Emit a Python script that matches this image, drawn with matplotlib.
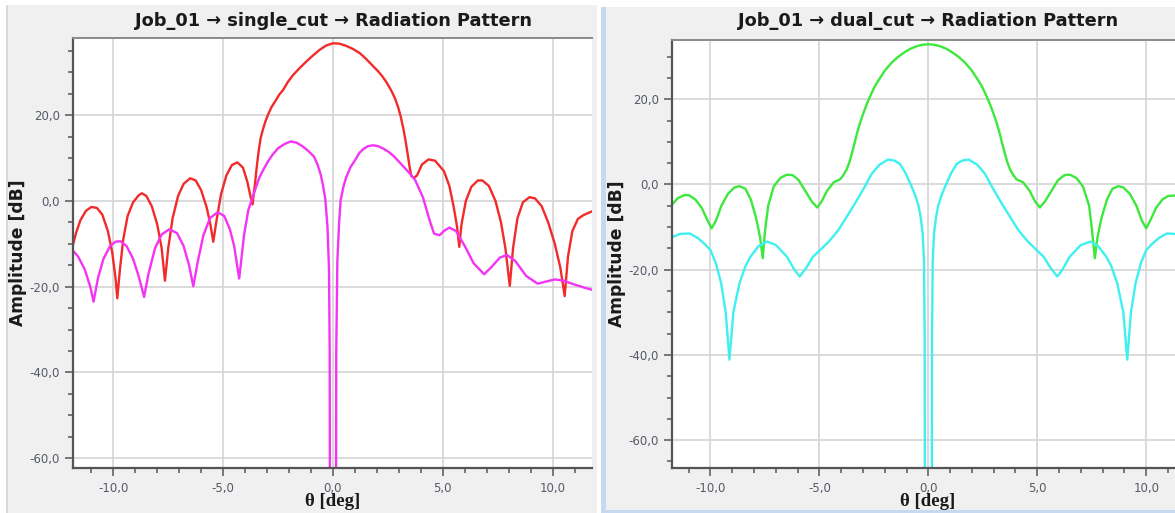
import matplotlib.pyplot as plt
from matplotlib.ticker import MultipleLocator, FuncFormatter
from matplotlib.patches import Rectangle

# single_cut panel
single_co_theta = [-11.85, -11.7, -11.5, -11.25, -11.0, -10.75, -10.5, -10.25, -10.05, -9.9, -9.82, -9.7, -9.55,
                   -9.35, -9.1, -8.85, -8.7, -8.5, -8.25, -8.0, -7.8, -7.65, -7.5, -7.3, -7.05, -6.8, -6.5, -6.25,
                   -6.0, -5.75, -5.58, -5.45, -5.3, -5.1, -4.85, -4.6, -4.35, -4.1, -3.9, -3.75, -3.66, -3.6, -3.55,
                   -3.48, -3.4, -3.3, -3.2, -3.08, -2.96, -2.8, -2.6, -2.45, -2.27, -2.05, -1.8, -1.5, -1.22, -0.9,
                   -0.6, -0.3, 0.0, 0.3, 0.6, 0.9, 1.22, 1.5, 1.8, 2.05, 2.26, 2.45, 2.65, 2.82, 2.96, 3.08, 3.2,
                   3.3, 3.4, 3.48, 3.57, 3.7, 3.83, 4.05, 4.35, 4.65, 5.05, 5.3, 5.5, 5.65, 5.75, 5.85, 6.05, 6.3,
                   6.6, 6.8, 7.1, 7.4, 7.65, 7.85, 8.05, 8.2, 8.4, 8.65, 8.95, 9.2, 9.5, 9.8, 10.1, 10.35, 10.55,
                   10.7, 10.9, 11.15, 11.4, 11.85]
single_co_db = [-10.5, -7.5, -4.5, -2.3, -1.4, -1.6, -3.2, -7.0, -12.0, -18.0, -22.7, -16.0, -9.0,
                -3.5, -0.3, 1.3, 1.8, 1.2, -1.2, -5.5, -11.0, -18.6, -11.0, -4.0, 1.2, 4.0, 5.3, 4.8,
                2.5, -1.5, -5.5, -9.5, -4.5, 1.5, 6.0, 8.4, 9.0, 7.8, 4.5, 1.0, -0.8, 2.0, 4.0,
                7.5, 11.0, 14.5, 16.5, 18.5, 20.1, 21.9, 23.5, 24.8, 25.9, 27.8, 29.5, 31.1, 32.5, 34.0,
                35.3, 36.3, 36.8, 36.7, 36.2, 35.5, 34.5, 33.2, 31.6, 30.3, 29.0, 27.6, 25.8, 24.0, 22.0, 19.8, 17.0,
                14.2, 11.0, 8.2, 5.8, 5.4, 6.0, 8.5, 9.7, 9.4, 7.0, 3.5, -1.5, -6.0, -10.7, -5.5, 0.0, 3.3,
                4.8, 4.8, 3.5, 0.0, -5.0, -11.0, -19.8, -11.0, -4.0, -0.3, 0.9, 0.6, -1.2, -5.0, -10.0, -15.5, -22.2,
                -13.0, -7.0, -4.2, -3.3, -2.3]

single_cx_theta = [-11.85, -11.6, -11.3, -11.05, -10.9, -10.7, -10.45, -10.15, -9.9, -9.67, -9.4, -9.1, -8.85,
                   -8.6, -8.4, -8.1, -7.8, -7.45, -7.1, -6.8, -6.55, -6.36, -6.15, -5.9, -5.6, -5.25, -4.95, -4.7,
                   -4.5, -4.27, -4.05, -3.85, -3.66, -3.5, -3.35, -3.15, -2.96, -2.75, -2.5, -2.2, -1.92, -1.65,
                   -1.4, -1.15, -0.87, -0.7, -0.55, -0.45, -0.35, -0.25, -0.18, -0.15, -0.13, 0.13, 0.15, 0.2,
                   0.28, 0.35, 0.47, 0.6, 0.8, 1.04, 1.2, 1.4, 1.6, 1.83, 2.05, 2.3, 2.55, 2.78, 3.0, 3.25, 3.5,
                   3.74, 4.1, 4.4, 4.6, 4.85, 5.05, 5.3, 5.6, 6.0, 6.4, 6.88, 7.2, 7.6, 7.92, 8.3, 8.8, 9.32, 9.7,
                   10.1, 10.5, 11.0, 11.5, 11.85]
single_cx_db = [-11.5, -13.0, -16.0, -20.0, -23.5, -18.0, -13.5, -10.5, -9.5, -9.4, -10.5, -13.5, -17.5,
                -22.4, -17.0, -11.0, -7.8, -6.6, -7.5, -10.5, -15.0, -19.9, -14.0, -8.0, -4.0, -2.6, -3.5, -6.5,
                -10.5, -18.1, -8.0, -2.0, 0.8, 3.3, 5.5, 7.5, 9.2, 10.8, 12.3, 13.3, 13.9, 13.6,
                12.8, 11.8, 10.4, 8.5, 6.0, 3.5, 0.5, -6.0, -16.0, -35.0, -100.0, -100.0, -35.0, -14.0,
                -5.0, 0.2, 3.2, 5.5, 7.9, 9.8, 11.2, 12.2, 12.8, 13.0, 12.8, 12.2, 11.4, 10.4, 9.2, 7.8, 6.4,
                4.9, 0.8, -4.5, -7.6, -8.0, -7.0, -6.2, -7.0, -10.5, -14.5, -17.1, -15.5, -13.2, -12.6, -14.0, -17.5,
                -19.3, -18.8, -18.3, -18.6, -19.5, -20.3, -20.8]

# dual_cut panel
dual_co_theta = [-11.78, -11.5, -11.2, -11.0, -10.7, -10.4, -10.15, -9.95, -9.75, -9.5, -9.2, -8.9, -8.67, -8.4,
                 -8.15, -7.9, -7.72, -7.6, -7.5, -7.35, -7.1, -6.8, -6.5, -6.23, -5.95, -5.65, -5.35, -5.1, -4.9,
                 -4.65, -4.35, -4.05, -3.9, -3.75, -3.62, -3.5, -3.38, -3.28, -3.15, -3.0, -2.8, -2.6, -2.45,
                 -2.28, -2.0, -1.7, -1.4, -1.1, -0.8, -0.5, -0.25, 0.0, 0.25, 0.5, 0.8, 1.1, 1.4, 1.7, 2.0, 2.28,
                 2.45, 2.6, 2.8, 3.0, 3.15, 3.28, 3.38, 3.5, 3.62, 3.75, 3.9, 4.05, 4.35, 4.65, 4.9, 5.12, 5.35,
                 5.65, 5.95, 6.25, 6.5, 6.8, 7.1, 7.38, 7.52, 7.64, 7.76, 7.94, 8.2, 8.45, 8.73, 8.95, 9.25, 9.55,
                 9.8, 10.0, 10.2, 10.45, 10.75, 11.0, 11.3]
dual_co_db = [-4.8, -3.2, -2.5, -2.5, -3.5, -5.5, -8.3, -10.3, -8.5, -5.0, -2.2, -0.7, -0.4, -1.0,
              -3.5, -8.0, -12.5, -17.3, -11.0, -5.0, -0.5, 1.5, 2.3, 2.2, 1.0, -1.5, -4.0, -5.4, -4.0,
              -1.5, 0.5, 1.2, 2.2, 3.5, 5.3, 7.5, 9.8, 11.9, 14.2, 16.5, 19.2, 21.5, 23.1,
              24.5, 26.7, 28.5, 29.9, 31.0, 31.9, 32.5, 32.8, 32.9, 32.8, 32.5, 31.9, 31.0, 29.9, 28.5, 26.7, 24.5,
              23.1, 21.5, 19.2, 16.5, 14.2, 11.9, 9.8, 7.5, 5.3, 3.5, 2.2, 1.2, 0.5, -1.5, -4.0, -5.4, -4.0,
              -1.5, 1.0, 2.2, 2.3, 1.5, -0.5, -5.0, -11.0, -17.3, -12.5, -8.0, -3.5, -1.0, -0.4, -0.7, -2.2, -5.0,
              -8.5, -10.3, -8.3, -5.5, -3.5, -2.7, -2.6]

dual_cx_theta = [-11.78, -11.4, -10.95, -10.6, -10.3, -10.0, -9.75, -9.51, -9.3, -9.13, -8.95, -8.67, -8.4,
                 -8.17, -7.8, -7.41, -7.0, -6.48, -6.15, -5.9, -5.6, -5.3, -4.97, -4.55, -4.13, -3.7, -3.28,
                 -2.95, -2.6, -2.25, -1.85, -1.55, -1.3, -1.05, -0.76, -0.6, -0.45, -0.35, -0.26, -0.2, -0.17,
                 -0.15, 0.15, 0.17, 0.2, 0.26, 0.35, 0.45, 0.6, 0.76, 1.05, 1.3, 1.55, 1.85, 2.25, 2.6, 2.95,
                 3.28, 3.7, 4.13, 4.55, 4.97, 5.3, 5.6, 5.92, 6.15, 6.48, 7.0, 7.45, 7.8, 8.17, 8.4, 8.67, 8.95,
                 9.13, 9.3, 9.51, 9.75, 10.0, 10.3, 10.6, 10.95, 11.3]
dual_cx_db = [-12.4, -11.6, -11.5, -12.5, -13.8, -15.4, -18.5, -23.2, -30.0, -41.1, -30.0, -23.2, -19.2,
              -17.0, -14.5, -13.4, -14.2, -17.0, -20.0, -21.6, -19.5, -17.0, -15.4, -13.3, -10.7, -7.2, -3.7,
              -0.8, 2.5, 4.6, 5.85, 5.6, 4.8, 2.7, -0.6, -2.6, -5.0, -7.8, -11.5, -18.0, -35.0,
              -100.0, -100.0, -35.0, -18.0, -11.5, -7.8, -5.0, -2.6, -0.6, 2.7, 4.8, 5.6, 5.85, 4.6, 2.5, -0.8,
              -3.7, -7.2, -10.7, -13.3, -15.4, -17.0, -19.5, -21.6, -20.0, -17.0, -14.2, -13.4, -14.5, -17.0, -19.2, -23.2, -30.0,
              -41.1, -30.0, -23.2, -18.5, -15.4, -13.8, -12.5, -11.5, -11.6]

W, H = 1175, 513
fig = plt.figure(figsize=(W / 100, H / 100), dpi=100)
fig.patch.set_facecolor('white')


def px_rect(x0, y0, x1, y1, color):
    fig.patches.append(Rectangle((x0 / W, 1 - y1 / H), (x1 - x0) / W, (y1 - y0) / H,
                                 transform=fig.transFigure, facecolor=color, edgecolor='none', zorder=-10))


# window backgrounds
px_rect(7, 5, 597, 513, '#f0f0f0')
px_rect(6, 5, 8, 513, '#dadada')
px_rect(606, 7, 1175, 510, '#f0f0f0')
px_rect(601, 7, 606, 513, '#c6d9f0')
px_rect(601, 510, 1175, 513, '#c6d9f0')

comma = FuncFormatter(lambda v, p: f"{v:.1f}".replace('.', ','))


def make_axes(left, top, right, bottom, xlim, ylim):
    ax = fig.add_axes([left / W, 1 - bottom / H, (right - left) / W, (bottom - top) / H])
    ax.set_facecolor('white')
    ax.set_xlim(*xlim)
    ax.set_ylim(*ylim)
    ax.xaxis.set_major_locator(MultipleLocator(5))
    ax.xaxis.set_minor_locator(MultipleLocator(1))
    ax.yaxis.set_major_locator(MultipleLocator(20))
    ax.yaxis.set_minor_locator(MultipleLocator(5))
    ax.xaxis.set_major_formatter(comma)
    ax.yaxis.set_major_formatter(comma)
    ax.grid(True, which='major', color='#d4d4d4', lw=1.2)
    ax.set_axisbelow(True)
    for s in ['left', 'bottom']:
        ax.spines[s].set_color('#555555')
        ax.spines[s].set_linewidth(1.6)
    ax.spines['top'].set_color('#8a8a8a')
    ax.spines['top'].set_linewidth(1.4)
    ax.spines['right'].set_visible(False)
    ax.tick_params(which='major', length=6, width=1.1, color='#555555', labelsize=8.5,
                   labelcolor='#545a68', pad=3)
    ax.tick_params(which='minor', length=3.5, width=1.1, color='#555555')
    ax.tick_params(axis='x', which='major', pad=4)
    return ax


ax1 = make_axes(72.7, 37.7, 591.7, 468, (-11.85, 11.78), (-62.3, 38.1))
ax1.plot(single_co_theta, single_co_db, color='#f22a2a', lw=1.7)
ax1.plot(single_cx_theta, single_cx_db, color='#f533f5', lw=1.7)

ax2 = make_axes(671.7, 40, 1185, 468.3, (-11.78, 11.78), (-66.6, 33.9))
ax2.plot(dual_co_theta, dual_co_db, color='#3de83d', lw=1.7)
ax2.plot(dual_cx_theta, dual_cx_db, color='#3ff0f0', lw=1.7)

for cx, title, ylx, ycy in [(333, 'Job_01 \u2192 single_cut \u2192 Radiation Pattern', 18, 253),
                            (928, 'Job_01 \u2192 dual_cut \u2192 Radiation Pattern', 617, 254)]:
    fig.text(cx / W, 1 - 21 / H, title, ha='center', va='center', fontsize=12.8, fontweight='bold',
             color='#1a1a1a')
    fig.text(ylx / W, 1 - ycy / H, 'Amplitude [dB]', rotation=90, ha='center', va='center',
             fontsize=12.3, fontweight='bold', color='#1a1a1a')
    fig.text(cx / W, 1 - 502 / H, '\u03b8 [deg]', ha='center', va='center', fontsize=13.5,
             fontweight='bold', family=['Liberation Serif', 'DejaVu Serif'], color='#1a1a1a')

fig.savefig('out.png', dpi=100)
